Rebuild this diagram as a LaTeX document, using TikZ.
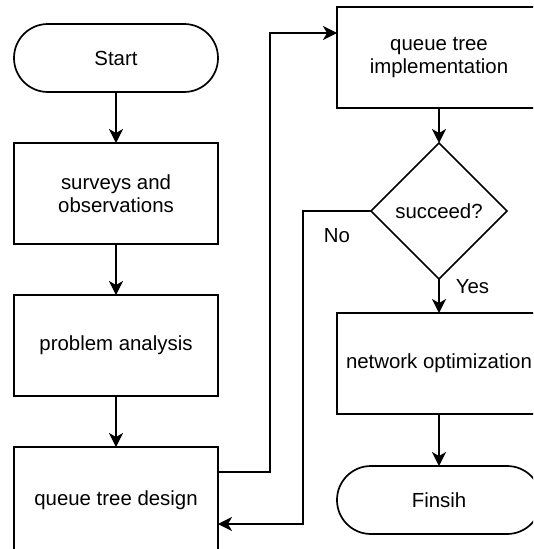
\documentclass[tikz,border=0pt]{standalone}
\usepackage{fontspec}
\setmainfont{Liberation Sans}
\usetikzlibrary{shapes.geometric, arrows.meta, positioning}

\tikzset{
    terminal/.style={draw, line width=1.7pt, rounded corners=33.9pt, minimum width=204pt,
                     minimum height=68pt, inner sep=0pt, outer sep=0pt, align=center},
    process/.style={draw, line width=1.7pt, minimum width=204pt, minimum height=101pt,
                    inner sep=0pt, outer sep=0pt, align=center},
    decision/.style={draw, line width=1.7pt, diamond, minimum width=136pt, minimum height=136pt,
                     inner sep=0pt, outer sep=0pt, align=center},
    flow/.style={line width=1.7pt, -{Stealth[length=14pt, width=14pt, inset=4pt]}},
    answer/.style={inner sep=0pt}
}

\begin{document}
\begin{tikzpicture}[x=1pt, y=-1pt, font=\fontsize{20.4pt}{23.5pt}\selectfont]
    \useasboundingbox (0,0) rectangle (533,549);
    \clip (0,0) rectangle (533,549);
    \fill[white] (0,0) rectangle (533,549);

    \node[terminal] (start) at (116,58) {Start};
    \node[process, below=51pt of start] (surveys) {surveys and\\observations};
    \node[process, below=51pt of surveys] (analysis) {problem analysis};
    \node[process, minimum height=106pt, below=51pt of analysis] (design) {queue tree design};

    \node[process] (impl) at (439,57.5) {queue tree\\implementation};
    \node[decision, below=35pt of impl] (succeed) {succeed?};
    \node[process, below=34pt of succeed] (optim) {network optimization};
    \node[terminal, below=52pt of optim] (finish) {Finsih};

    \draw[flow] (start) -- (surveys);
    \draw[flow] (surveys) -- (analysis);
    \draw[flow] (analysis) -- (design);
    \draw[flow] ([yshift=28pt]design.east) -- ++(52,0) |- ([yshift=24.5pt]impl.west);
    \draw[flow] (impl) -- (succeed);
    \draw[flow] (succeed.west) -- ++(-68,0) node[midway, below=17pt, answer] {No}
        |- ([yshift=-24pt]design.east);
    \draw[flow] (succeed.south) -- (optim.north) node[pos=0.22, anchor=west, xshift=16pt, answer] {Yes};
    \draw[flow] (optim) -- (finish);
\end{tikzpicture}
\end{document}
